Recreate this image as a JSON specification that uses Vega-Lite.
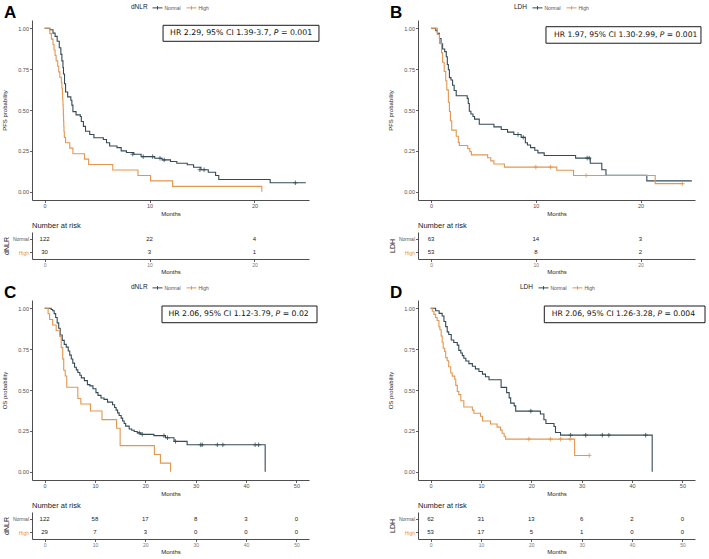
{
  "$schema": "https://vega.github.io/schema/vega-lite/v6.json",
  "background": "white",
  "padding": {"left": 1, "top": 2, "right": 2, "bottom": 2},
  "config": {
    "view": {"stroke": null},
    "font": "Liberation Sans",
    "axis": {"grid": false, "domainColor": "#3a3a3a", "tickColor": "#3a3a3a", "labelColor": "#4D4D4D", "titleColor": "#222", "labelFontSize": 5.5, "titleFontSize": 6, "titleFontWeight": "normal", "tickSize": 2.5, "labelPadding": 1, "domainWidth": 0.9, "tickWidth": 0.8, "labelFont": "Liberation Sans", "titleFont": "Liberation Sans"},
    "legend": {"labelFont": "Liberation Sans", "titleFont": "Liberation Sans"}
  },
  "datasets": {
    "km": [
      {"panel":"A","group":"Normal","t":0,"s":1},{"panel":"A","group":"Normal","t":0.5,"s":0.99},{"panel":"A","group":"Normal","t":0.8,"s":0.97},{"panel":"A","group":"Normal","t":1.0,"s":0.95},{"panel":"A","group":"Normal","t":1.2,"s":0.92},{"panel":"A","group":"Normal","t":1.4,"s":0.88},{"panel":"A","group":"Normal","t":1.55,"s":0.84},{"panel":"A","group":"Normal","t":1.65,"s":0.8},{"panel":"A","group":"Normal","t":1.75,"s":0.76},{"panel":"A","group":"Normal","t":1.8,"s":0.72},{"panel":"A","group":"Normal","t":1.9,"s":0.66},{"panel":"A","group":"Normal","t":2.0,"s":0.61},{"panel":"A","group":"Normal","t":2.2,"s":0.58},{"panel":"A","group":"Normal","t":2.5,"s":0.56},{"panel":"A","group":"Normal","t":2.6,"s":0.53},{"panel":"A","group":"Normal","t":2.7,"s":0.49},{"panel":"A","group":"Normal","t":3.0,"s":0.47},{"panel":"A","group":"Normal","t":3.4,"s":0.46},{"panel":"A","group":"Normal","t":3.5,"s":0.43},{"panel":"A","group":"Normal","t":3.7,"s":0.4},{"panel":"A","group":"Normal","t":3.9,"s":0.37},{"panel":"A","group":"Normal","t":4.3,"s":0.35},{"panel":"A","group":"Normal","t":4.7,"s":0.33},{"panel":"A","group":"Normal","t":5.6,"s":0.32},{"panel":"A","group":"Normal","t":5.9,"s":0.3},{"panel":"A","group":"Normal","t":6.2,"s":0.28},{"panel":"A","group":"Normal","t":6.9,"s":0.27},{"panel":"A","group":"Normal","t":7.3,"s":0.25},{"panel":"A","group":"Normal","t":7.8,"s":0.24},{"panel":"A","group":"Normal","t":8.5,"s":0.23},{"panel":"A","group":"Normal","t":9.2,"s":0.215},{"panel":"A","group":"Normal","t":10.5,"s":0.205},{"panel":"A","group":"Normal","t":11.2,"s":0.195},{"panel":"A","group":"Normal","t":12.0,"s":0.185},{"panel":"A","group":"Normal","t":12.6,"s":0.175},{"panel":"A","group":"Normal","t":13.6,"s":0.165},{"panel":"A","group":"Normal","t":14.2,"s":0.15},{"panel":"A","group":"Normal","t":14.9,"s":0.135},{"panel":"A","group":"Normal","t":15.6,"s":0.12},{"panel":"A","group":"Normal","t":16.3,"s":0.1},{"panel":"A","group":"Normal","t":16.6,"s":0.075},{"panel":"A","group":"Normal","t":21.5,"s":0.055},{"panel":"A","group":"Normal","t":24.9,"s":0.055},
      {"panel":"A","group":"High","t":0,"s":1},{"panel":"A","group":"High","t":0.5,"s":0.967},{"panel":"A","group":"High","t":0.65,"s":0.933},{"panel":"A","group":"High","t":0.8,"s":0.9},{"panel":"A","group":"High","t":0.9,"s":0.867},{"panel":"A","group":"High","t":1.0,"s":0.833},{"panel":"A","group":"High","t":1.1,"s":0.8},{"panel":"A","group":"High","t":1.25,"s":0.767},{"panel":"A","group":"High","t":1.35,"s":0.733},{"panel":"A","group":"High","t":1.45,"s":0.7},{"panel":"A","group":"High","t":1.6,"s":0.667},{"panel":"A","group":"High","t":1.65,"s":0.633},{"panel":"A","group":"High","t":1.7,"s":0.6},{"panel":"A","group":"High","t":1.72,"s":0.567},{"panel":"A","group":"High","t":1.75,"s":0.533},{"panel":"A","group":"High","t":1.77,"s":0.5},{"panel":"A","group":"High","t":1.79,"s":0.467},{"panel":"A","group":"High","t":1.81,"s":0.433},{"panel":"A","group":"High","t":1.83,"s":0.4},{"panel":"A","group":"High","t":1.85,"s":0.367},{"panel":"A","group":"High","t":1.88,"s":0.333},{"panel":"A","group":"High","t":2.0,"s":0.3},{"panel":"A","group":"High","t":2.4,"s":0.267},{"panel":"A","group":"High","t":2.7,"s":0.233},{"panel":"A","group":"High","t":3.8,"s":0.2},{"panel":"A","group":"High","t":4.2,"s":0.167},{"panel":"A","group":"High","t":6.5,"s":0.133},{"panel":"A","group":"High","t":8.9,"s":0.1},{"panel":"A","group":"High","t":10.1,"s":0.067},{"panel":"A","group":"High","t":12.2,"s":0.033},{"panel":"A","group":"High","t":20.7,"s":0.0},
      {"panel":"B","group":"Normal","t":0,"s":1},{"panel":"B","group":"Normal","t":0.45,"s":0.984},{"panel":"B","group":"Normal","t":0.6,"s":0.968},{"panel":"B","group":"Normal","t":0.8,"s":0.937},{"panel":"B","group":"Normal","t":0.95,"s":0.905},{"panel":"B","group":"Normal","t":1.1,"s":0.873},{"panel":"B","group":"Normal","t":1.3,"s":0.857},{"panel":"B","group":"Normal","t":1.45,"s":0.825},{"panel":"B","group":"Normal","t":1.55,"s":0.778},{"panel":"B","group":"Normal","t":1.65,"s":0.746},{"panel":"B","group":"Normal","t":1.75,"s":0.698},{"panel":"B","group":"Normal","t":1.9,"s":0.683},{"panel":"B","group":"Normal","t":2.05,"s":0.651},{"panel":"B","group":"Normal","t":2.2,"s":0.619},{"panel":"B","group":"Normal","t":2.4,"s":0.587},{"panel":"B","group":"Normal","t":3.45,"s":0.571},{"panel":"B","group":"Normal","t":3.55,"s":0.54},{"panel":"B","group":"Normal","t":3.65,"s":0.492},{"panel":"B","group":"Normal","t":3.8,"s":0.476},{"panel":"B","group":"Normal","t":4.0,"s":0.46},{"panel":"B","group":"Normal","t":4.15,"s":0.444},{"panel":"B","group":"Normal","t":4.6,"s":0.413},{"panel":"B","group":"Normal","t":6.0,"s":0.397},{"panel":"B","group":"Normal","t":6.7,"s":0.381},{"panel":"B","group":"Normal","t":7.3,"s":0.365},{"panel":"B","group":"Normal","t":7.9,"s":0.35},{"panel":"B","group":"Normal","t":8.6,"s":0.333},{"panel":"B","group":"Normal","t":9.0,"s":0.3},{"panel":"B","group":"Normal","t":9.2,"s":0.286},{"panel":"B","group":"Normal","t":9.5,"s":0.27},{"panel":"B","group":"Normal","t":9.9,"s":0.254},{"panel":"B","group":"Normal","t":10.2,"s":0.238},{"panel":"B","group":"Normal","t":10.8,"s":0.222},{"panel":"B","group":"Normal","t":13.8,"s":0.206},{"panel":"B","group":"Normal","t":15.2,"s":0.175},{"panel":"B","group":"Normal","t":16.3,"s":0.135},{"panel":"B","group":"Normal","t":16.7,"s":0.101},{"panel":"B","group":"Normal","t":20.6,"s":0.067},{"panel":"B","group":"Normal","t":24.9,"s":0.067},
      {"panel":"B","group":"High","t":0,"s":1},{"panel":"B","group":"High","t":0.6,"s":0.962},{"panel":"B","group":"High","t":0.8,"s":0.906},{"panel":"B","group":"High","t":1.0,"s":0.849},{"panel":"B","group":"High","t":1.1,"s":0.792},{"panel":"B","group":"High","t":1.25,"s":0.736},{"panel":"B","group":"High","t":1.4,"s":0.679},{"panel":"B","group":"High","t":1.5,"s":0.623},{"panel":"B","group":"High","t":1.65,"s":0.547},{"panel":"B","group":"High","t":1.75,"s":0.491},{"panel":"B","group":"High","t":1.85,"s":0.434},{"panel":"B","group":"High","t":1.97,"s":0.377},{"panel":"B","group":"High","t":2.4,"s":0.34},{"panel":"B","group":"High","t":2.6,"s":0.302},{"panel":"B","group":"High","t":2.7,"s":0.283},{"panel":"B","group":"High","t":3.5,"s":0.264},{"panel":"B","group":"High","t":3.7,"s":0.245},{"panel":"B","group":"High","t":3.85,"s":0.226},{"panel":"B","group":"High","t":5.4,"s":0.208},{"panel":"B","group":"High","t":5.7,"s":0.189},{"panel":"B","group":"High","t":6.0,"s":0.17},{"panel":"B","group":"High","t":7.0,"s":0.151},{"panel":"B","group":"High","t":12.0,"s":0.132},{"panel":"B","group":"High","t":13.6,"s":0.1},{"panel":"B","group":"High","t":21.4,"s":0.05},{"panel":"B","group":"High","t":24.0,"s":0.05},
      {"panel":"C","group":"Normal","t":0,"s":1},{"panel":"C","group":"Normal","t":1.3,"s":0.992},{"panel":"C","group":"Normal","t":1.6,"s":0.984},{"panel":"C","group":"Normal","t":1.9,"s":0.967},{"panel":"C","group":"Normal","t":2.2,"s":0.943},{"panel":"C","group":"Normal","t":2.5,"s":0.91},{"panel":"C","group":"Normal","t":2.8,"s":0.877},{"panel":"C","group":"Normal","t":3.1,"s":0.836},{"panel":"C","group":"Normal","t":3.5,"s":0.803},{"panel":"C","group":"Normal","t":3.9,"s":0.779},{"panel":"C","group":"Normal","t":4.3,"s":0.762},{"panel":"C","group":"Normal","t":4.7,"s":0.738},{"panel":"C","group":"Normal","t":5.0,"s":0.713},{"panel":"C","group":"Normal","t":5.3,"s":0.689},{"panel":"C","group":"Normal","t":5.6,"s":0.664},{"panel":"C","group":"Normal","t":5.95,"s":0.639},{"panel":"C","group":"Normal","t":6.3,"s":0.623},{"panel":"C","group":"Normal","t":6.6,"s":0.607},{"panel":"C","group":"Normal","t":7.0,"s":0.59},{"panel":"C","group":"Normal","t":7.3,"s":0.574},{"panel":"C","group":"Normal","t":7.9,"s":0.557},{"panel":"C","group":"Normal","t":8.5,"s":0.533},{"panel":"C","group":"Normal","t":9.0,"s":0.525},{"panel":"C","group":"Normal","t":9.6,"s":0.508},{"panel":"C","group":"Normal","t":10.2,"s":0.484},{"panel":"C","group":"Normal","t":10.6,"s":0.467},{"panel":"C","group":"Normal","t":11.2,"s":0.451},{"panel":"C","group":"Normal","t":11.8,"s":0.443},{"panel":"C","group":"Normal","t":12.5,"s":0.426},{"panel":"C","group":"Normal","t":13.5,"s":0.41},{"panel":"C","group":"Normal","t":13.9,"s":0.393},{"panel":"C","group":"Normal","t":14.2,"s":0.377},{"panel":"C","group":"Normal","t":14.5,"s":0.36},{"panel":"C","group":"Normal","t":14.8,"s":0.344},{"panel":"C","group":"Normal","t":15.2,"s":0.328},{"panel":"C","group":"Normal","t":15.5,"s":0.311},{"panel":"C","group":"Normal","t":15.8,"s":0.295},{"panel":"C","group":"Normal","t":16.1,"s":0.279},{"panel":"C","group":"Normal","t":16.8,"s":0.262},{"panel":"C","group":"Normal","t":17.3,"s":0.254},{"panel":"C","group":"Normal","t":17.8,"s":0.246},{"panel":"C","group":"Normal","t":18.4,"s":0.238},{"panel":"C","group":"Normal","t":19.1,"s":0.229},{"panel":"C","group":"Normal","t":21.7,"s":0.221},{"panel":"C","group":"Normal","t":24.0,"s":0.208},{"panel":"C","group":"Normal","t":25.7,"s":0.186},{"panel":"C","group":"Normal","t":28.3,"s":0.165},{"panel":"C","group":"Normal","t":43.8,"s":0.0},
      {"panel":"C","group":"High","t":0,"s":1},{"panel":"C","group":"High","t":0.7,"s":0.966},{"panel":"C","group":"High","t":1.0,"s":0.931},{"panel":"C","group":"High","t":1.6,"s":0.897},{"panel":"C","group":"High","t":2.3,"s":0.862},{"panel":"C","group":"High","t":3.0,"s":0.828},{"panel":"C","group":"High","t":3.3,"s":0.759},{"panel":"C","group":"High","t":3.6,"s":0.69},{"panel":"C","group":"High","t":3.8,"s":0.621},{"panel":"C","group":"High","t":4.1,"s":0.586},{"panel":"C","group":"High","t":4.4,"s":0.517},{"panel":"C","group":"High","t":6.6,"s":0.448},{"panel":"C","group":"High","t":7.2,"s":0.414},{"panel":"C","group":"High","t":9.1,"s":0.372},{"panel":"C","group":"High","t":11.4,"s":0.319},{"panel":"C","group":"High","t":14.3,"s":0.266},{"panel":"C","group":"High","t":15.0,"s":0.16},{"panel":"C","group":"High","t":21.8,"s":0.106},{"panel":"C","group":"High","t":23.0,"s":0.053},{"panel":"C","group":"High","t":25.0,"s":0.0},
      {"panel":"D","group":"Normal","t":0,"s":1},{"panel":"D","group":"Normal","t":1.0,"s":0.984},{"panel":"D","group":"Normal","t":1.7,"s":0.968},{"panel":"D","group":"Normal","t":2.3,"s":0.952},{"panel":"D","group":"Normal","t":2.65,"s":0.919},{"panel":"D","group":"Normal","t":3.0,"s":0.887},{"panel":"D","group":"Normal","t":3.3,"s":0.855},{"panel":"D","group":"Normal","t":3.6,"s":0.839},{"panel":"D","group":"Normal","t":4.1,"s":0.806},{"panel":"D","group":"Normal","t":4.6,"s":0.79},{"panel":"D","group":"Normal","t":5.3,"s":0.774},{"panel":"D","group":"Normal","t":5.6,"s":0.742},{"panel":"D","group":"Normal","t":6.0,"s":0.726},{"panel":"D","group":"Normal","t":6.3,"s":0.71},{"panel":"D","group":"Normal","t":6.6,"s":0.694},{"panel":"D","group":"Normal","t":7.0,"s":0.677},{"panel":"D","group":"Normal","t":7.6,"s":0.661},{"panel":"D","group":"Normal","t":8.3,"s":0.645},{"panel":"D","group":"Normal","t":8.9,"s":0.629},{"panel":"D","group":"Normal","t":9.6,"s":0.613},{"panel":"D","group":"Normal","t":10.3,"s":0.597},{"panel":"D","group":"Normal","t":10.9,"s":0.581},{"panel":"D","group":"Normal","t":11.6,"s":0.563},{"panel":"D","group":"Normal","t":14.0,"s":0.516},{"panel":"D","group":"Normal","t":15.1,"s":0.484},{"panel":"D","group":"Normal","t":15.6,"s":0.452},{"panel":"D","group":"Normal","t":15.9,"s":0.42},{"panel":"D","group":"Normal","t":16.6,"s":0.403},{"panel":"D","group":"Normal","t":16.9,"s":0.371},{"panel":"D","group":"Normal","t":21.8,"s":0.353},{"panel":"D","group":"Normal","t":22.5,"s":0.318},{"panel":"D","group":"Normal","t":22.9,"s":0.295},{"panel":"D","group":"Normal","t":24.5,"s":0.277},{"panel":"D","group":"Normal","t":24.8,"s":0.24},{"panel":"D","group":"Normal","t":25.8,"s":0.224},{"panel":"D","group":"Normal","t":44.0,"s":0.0},
      {"panel":"D","group":"High","t":0,"s":1},{"panel":"D","group":"High","t":0.33,"s":0.981},{"panel":"D","group":"High","t":0.66,"s":0.962},{"panel":"D","group":"High","t":1.0,"s":0.943},{"panel":"D","group":"High","t":1.3,"s":0.925},{"panel":"D","group":"High","t":1.65,"s":0.887},{"panel":"D","group":"High","t":1.85,"s":0.868},{"panel":"D","group":"High","t":2.1,"s":0.83},{"panel":"D","group":"High","t":2.3,"s":0.792},{"panel":"D","group":"High","t":2.5,"s":0.755},{"panel":"D","group":"High","t":2.8,"s":0.736},{"panel":"D","group":"High","t":3.0,"s":0.698},{"panel":"D","group":"High","t":3.3,"s":0.679},{"panel":"D","group":"High","t":3.6,"s":0.642},{"panel":"D","group":"High","t":4.0,"s":0.604},{"panel":"D","group":"High","t":4.3,"s":0.585},{"panel":"D","group":"High","t":4.8,"s":0.566},{"panel":"D","group":"High","t":5.0,"s":0.528},{"panel":"D","group":"High","t":5.3,"s":0.491},{"panel":"D","group":"High","t":5.6,"s":0.472},{"panel":"D","group":"High","t":6.0,"s":0.434},{"panel":"D","group":"High","t":6.6,"s":0.396},{"panel":"D","group":"High","t":8.3,"s":0.377},{"panel":"D","group":"High","t":8.6,"s":0.358},{"panel":"D","group":"High","t":9.9,"s":0.34},{"panel":"D","group":"High","t":10.3,"s":0.311},{"panel":"D","group":"High","t":11.9,"s":0.292},{"panel":"D","group":"High","t":13.2,"s":0.273},{"panel":"D","group":"High","t":13.9,"s":0.255},{"panel":"D","group":"High","t":14.2,"s":0.236},{"panel":"D","group":"High","t":14.6,"s":0.217},{"panel":"D","group":"High","t":14.9,"s":0.2},{"panel":"D","group":"High","t":28.6,"s":0.1},{"panel":"D","group":"High","t":31.5,"s":0.1}
    ],
    "censor": [
      {"panel":"A","group":"Normal","t":8.4,"s":0.23},{"panel":"A","group":"Normal","t":9.4,"s":0.215},{"panel":"A","group":"Normal","t":10.3,"s":0.215},{"panel":"A","group":"Normal","t":11.0,"s":0.205},{"panel":"A","group":"Normal","t":11.4,"s":0.195},{"panel":"A","group":"Normal","t":14.8,"s":0.135},{"panel":"A","group":"Normal","t":15.2,"s":0.135},{"panel":"A","group":"Normal","t":23.9,"s":0.055},
      {"panel":"B","group":"Normal","t":8.3,"s":0.35},{"panel":"B","group":"Normal","t":8.8,"s":0.333},{"panel":"B","group":"Normal","t":14.9,"s":0.206},{"panel":"B","group":"Normal","t":15.1,"s":0.206},
      {"panel":"B","group":"High","t":10.0,"s":0.151},{"panel":"B","group":"High","t":11.4,"s":0.151},{"panel":"B","group":"High","t":14.8,"s":0.1},{"panel":"B","group":"High","t":24.0,"s":0.05},
      {"panel":"C","group":"Normal","t":18.8,"s":0.238},{"panel":"C","group":"Normal","t":19.4,"s":0.229},{"panel":"C","group":"Normal","t":23.7,"s":0.221},{"panel":"C","group":"Normal","t":24.4,"s":0.208},{"panel":"C","group":"Normal","t":26.0,"s":0.186},{"panel":"C","group":"Normal","t":31.0,"s":0.165},{"panel":"C","group":"Normal","t":31.3,"s":0.165},{"panel":"C","group":"Normal","t":34.3,"s":0.165},{"panel":"C","group":"Normal","t":35.4,"s":0.165},{"panel":"C","group":"Normal","t":41.8,"s":0.165},{"panel":"C","group":"Normal","t":42.5,"s":0.165},
      {"panel":"D","group":"Normal","t":19.9,"s":0.371},{"panel":"D","group":"Normal","t":27.8,"s":0.224},{"panel":"D","group":"Normal","t":30.8,"s":0.224},{"panel":"D","group":"Normal","t":34.1,"s":0.224},{"panel":"D","group":"Normal","t":35.4,"s":0.224},{"panel":"D","group":"Normal","t":42.7,"s":0.224},
      {"panel":"D","group":"High","t":19.5,"s":0.2},{"panel":"D","group":"High","t":23.8,"s":0.2},{"panel":"D","group":"High","t":25.8,"s":0.2},{"panel":"D","group":"High","t":27.7,"s":0.2},{"panel":"D","group":"High","t":31.5,"s":0.1}
    ],
    "risk": [
      {"panel":"A","group":"Normal","t":0,"n":122},{"panel":"A","group":"Normal","t":10,"n":22},{"panel":"A","group":"Normal","t":20,"n":4},
      {"panel":"A","group":"High","t":0,"n":30},{"panel":"A","group":"High","t":10,"n":3},{"panel":"A","group":"High","t":20,"n":1},
      {"panel":"B","group":"Normal","t":0,"n":63},{"panel":"B","group":"Normal","t":10,"n":14},{"panel":"B","group":"Normal","t":20,"n":3},
      {"panel":"B","group":"High","t":0,"n":53},{"panel":"B","group":"High","t":10,"n":8},{"panel":"B","group":"High","t":20,"n":2},
      {"panel":"C","group":"Normal","t":0,"n":122},{"panel":"C","group":"Normal","t":10,"n":58},{"panel":"C","group":"Normal","t":20,"n":17},{"panel":"C","group":"Normal","t":30,"n":8},{"panel":"C","group":"Normal","t":40,"n":3},{"panel":"C","group":"Normal","t":50,"n":0},
      {"panel":"C","group":"High","t":0,"n":29},{"panel":"C","group":"High","t":10,"n":7},{"panel":"C","group":"High","t":20,"n":3},{"panel":"C","group":"High","t":30,"n":0},{"panel":"C","group":"High","t":40,"n":0},{"panel":"C","group":"High","t":50,"n":0},
      {"panel":"D","group":"Normal","t":0,"n":62},{"panel":"D","group":"Normal","t":10,"n":31},{"panel":"D","group":"Normal","t":20,"n":13},{"panel":"D","group":"Normal","t":30,"n":6},{"panel":"D","group":"Normal","t":40,"n":2},{"panel":"D","group":"Normal","t":50,"n":0},
      {"panel":"D","group":"High","t":0,"n":53},{"panel":"D","group":"High","t":10,"n":17},{"panel":"D","group":"High","t":20,"n":5},{"panel":"D","group":"High","t":30,"n":1},{"panel":"D","group":"High","t":40,"n":0},{"panel":"D","group":"High","t":50,"n":0}
    ]
  },
  "columns": 2,
  "spacing": {"row": 32, "column": 109},
  "align": "each",
  "bounds": "flush",
  "resolve": {"scale": {"color": "independent"}, "legend": {"color": "independent"}},
  "concat": [
    {
      "width": 277, "height": 189,
      "title": {"text": "A", "anchor": "start", "frame": "group", "fontSize": 17, "fontWeight": "bold", "font": "Liberation Sans", "color": "#000", "offset": 0, "dx": -28, "dy": 33, "baseline": "alphabetic"},
      "layer": [
        {"data": {"name": "km"}, "transform": [{"filter": "datum.panel === 'A'"}],
         "mark": {"type": "line", "interpolate": "step-after", "strokeWidth": 1.1},
         "encoding": {
           "x": {"field": "t", "type": "quantitative", "scale": {"domain": [-1.2, 25.2], "nice": false, "zero": false}, "axis": {"values": [0, 10, 20], "title": "Months", "titlePadding": 1}},
           "y": {"field": "s", "type": "quantitative", "scale": {"domain": [-0.05, 1.05], "nice": false, "zero": false, "range": [189, 9]}, "axis": {"values": [0, 0.25, 0.5, 0.75, 1], "format": ".2f", "title": "PFS probability", "titlePadding": 10}},
           "color": {"field": "group", "type": "nominal", "title": "dNLR", "scale": {"domain": ["Normal", "High"], "range": ["#344B55", "#E3964F"]},
             "legend": {"orient": "none", "legendX": 99, "legendY": -9, "direction": "horizontal", "titleOrient": "left", "symbolType": "M-1,0H1M0,-0.35V0.35", "symbolSize": 100, "symbolStrokeWidth": 1, "labelFontSize": 5, "titleFontSize": 6.5, "labelColor": "#555", "titleColor": "#222", "titleFontWeight": "normal", "columnPadding": 3, "labelOffset": 1.5, "titlePadding": 4, "padding": 0}}
         }},
        {"data": {"name": "censor"}, "transform": [{"filter": "datum.panel === 'A'"}],
         "mark": {"type": "point", "shape": "M0,-1V1M-1,0H1", "filled": false, "size": 20, "strokeWidth": 0.8, "opacity": 1},
         "encoding": {"x": {"field": "t", "type": "quantitative"}, "y": {"field": "s", "type": "quantitative"}, "color": {"field": "group", "type": "nominal"}}},
        {"data": {"values": [{}]}, "mark": {"type": "rect", "fill": "white", "stroke": "#1a1a1a", "strokeWidth": 1},
         "encoding": {"x": {"datum": 11.29}, "x2": {"datum": 26.15}, "y": {"datum": 1.0176}, "y2": {"datum": 0.9198}}},
        {"data": {"values": [{}]}, "mark": {"type": "text", "font": "DejaVu Sans", "fontSize": 7.8, "align": "right", "baseline": "middle", "dx": -4.83, "color": "#111"},
         "encoding": {"x": {"datum": 22.06}, "y": {"datum": 0.969}, "text": {"value": "HR 2.29, 95% CI 1.39-3.7,"}}},
        {"data": {"values": [{}]}, "mark": {"type": "text", "font": "DejaVu Sans", "fontSize": 7.8, "fontStyle": "italic", "align": "center", "baseline": "middle", "color": "#111"},
         "encoding": {"x": {"datum": 22.06}, "y": {"datum": 0.969}, "text": {"value": "P"}}},
        {"data": {"values": [{}]}, "mark": {"type": "text", "font": "DejaVu Sans", "fontSize": 7.8, "align": "left", "baseline": "middle", "dx": 4.83, "color": "#111"},
         "encoding": {"x": {"datum": 22.06}, "y": {"datum": 0.969}, "text": {"value": "= 0.001"}}}
      ]
    },
    {
      "width": 277, "height": 189,
      "title": {"text": "B", "anchor": "start", "frame": "group", "fontSize": 17, "fontWeight": "bold", "font": "Liberation Sans", "color": "#000", "offset": 0, "dx": -28, "dy": 33, "baseline": "alphabetic"},
      "layer": [
        {"data": {"name": "km"}, "transform": [{"filter": "datum.panel === 'B'"}],
         "mark": {"type": "line", "interpolate": "step-after", "strokeWidth": 1.1},
         "encoding": {
           "x": {"field": "t", "type": "quantitative", "scale": {"domain": [-1.25, 25.2], "nice": false, "zero": false}, "axis": {"values": [0, 10, 20], "title": "Months", "titlePadding": 1}},
           "y": {"field": "s", "type": "quantitative", "scale": {"domain": [-0.05, 1.05], "nice": false, "zero": false, "range": [189, 9]}, "axis": {"values": [0, 0.25, 0.5, 0.75, 1], "format": ".2f", "title": "PFS probability", "titlePadding": 10}},
           "color": {"field": "group", "type": "nominal", "title": "LDH", "scale": {"domain": ["Normal", "High"], "range": ["#344B55", "#E3964F"]},
             "legend": {"orient": "none", "legendX": 96, "legendY": -9, "direction": "horizontal", "titleOrient": "left", "symbolType": "M-1,0H1M0,-0.35V0.35", "symbolSize": 100, "symbolStrokeWidth": 1, "labelFontSize": 5, "titleFontSize": 6.5, "labelColor": "#555", "titleColor": "#222", "titleFontWeight": "normal", "columnPadding": 3, "labelOffset": 1.5, "titlePadding": 4, "padding": 0}}
         }},
        {"data": {"name": "censor"}, "transform": [{"filter": "datum.panel === 'B'"}],
         "mark": {"type": "point", "shape": "M0,-1V1M-1,0H1", "filled": false, "size": 20, "strokeWidth": 0.8, "opacity": 1},
         "encoding": {"x": {"field": "t", "type": "quantitative"}, "y": {"field": "s", "type": "quantitative"}, "color": {"field": "group", "type": "nominal"}}},
        {"data": {"values": [{}]}, "mark": {"type": "rect", "fill": "white", "stroke": "#1a1a1a", "strokeWidth": 1},
         "encoding": {"x": {"datum": 10.97}, "x2": {"datum": 25.77}, "y": {"datum": 1.009}, "y2": {"datum": 0.908}}},
        {"data": {"values": [{}]}, "mark": {"type": "text", "font": "DejaVu Sans", "fontSize": 7.6, "align": "right", "baseline": "middle", "dx": -4.71, "color": "#111"},
         "encoding": {"x": {"datum": 22.06}, "y": {"datum": 0.958}, "text": {"value": "HR 1.97, 95% CI 1.30-2.99,"}}},
        {"data": {"values": [{}]}, "mark": {"type": "text", "font": "DejaVu Sans", "fontSize": 7.6, "fontStyle": "italic", "align": "center", "baseline": "middle", "color": "#111"},
         "encoding": {"x": {"datum": 22.06}, "y": {"datum": 0.958}, "text": {"value": "P"}}},
        {"data": {"values": [{}]}, "mark": {"type": "text", "font": "DejaVu Sans", "fontSize": 7.6, "align": "left", "baseline": "middle", "dx": 4.71, "color": "#111"},
         "encoding": {"x": {"datum": 22.06}, "y": {"datum": 0.958}, "text": {"value": "= 0.001"}}}
      ]
    },
    {
      "width": 277, "height": 27,
      "title": {"text": "Number at risk", "anchor": "start", "frame": "group", "fontSize": 7.5, "fontWeight": "normal", "font": "Liberation Sans", "color": "#222", "offset": 3},
      "data": {"name": "risk"}, "transform": [{"filter": "datum.panel === 'A'"}],
      "mark": {"type": "text", "fontSize": 6, "font": "Liberation Sans", "color": "#222"},
      "encoding": {
        "x": {"field": "t", "type": "quantitative", "scale": {"domain": [-1.2, 25.2], "nice": false, "zero": false}, "axis": {"values": [0, 10, 20], "title": "Months", "titlePadding": 0.5, "labelFontSize": 5, "labelColor": "#777"}},
        "y": {"field": "group", "type": "nominal", "scale": {"domain": ["Normal", "High"]}, "axis": {"title": "dNLR", "titleFontSize": 7, "titlePadding": 3, "labelFontSize": 5, "labelPadding": 1, "labelColor": {"condition": {"test": "datum.value === 'High'", "value": "#E3964F"}, "value": "#555"}}},
        "text": {"field": "n", "type": "quantitative"}
      }
    },
    {
      "width": 277, "height": 27,
      "title": {"text": "Number at risk", "anchor": "start", "frame": "group", "fontSize": 7.5, "fontWeight": "normal", "font": "Liberation Sans", "color": "#222", "offset": 3},
      "data": {"name": "risk"}, "transform": [{"filter": "datum.panel === 'B'"}],
      "mark": {"type": "text", "fontSize": 6, "font": "Liberation Sans", "color": "#222"},
      "encoding": {
        "x": {"field": "t", "type": "quantitative", "scale": {"domain": [-1.25, 25.2], "nice": false, "zero": false}, "axis": {"values": [0, 10, 20], "title": "Months", "titlePadding": 0.5, "labelFontSize": 5, "labelColor": "#777"}},
        "y": {"field": "group", "type": "nominal", "scale": {"domain": ["Normal", "High"]}, "axis": {"title": "LDH", "titleFontSize": 7, "titlePadding": 3, "labelFontSize": 5, "labelPadding": 1, "labelColor": {"condition": {"test": "datum.value === 'High'", "value": "#E3964F"}, "value": "#555"}}},
        "text": {"field": "n", "type": "quantitative"}
      }
    },
    {
      "width": 277, "height": 189,
      "title": {"text": "C", "anchor": "start", "frame": "group", "fontSize": 17, "fontWeight": "bold", "font": "Liberation Sans", "color": "#000", "offset": 0, "dx": -28, "dy": 33, "baseline": "alphabetic"},
      "layer": [
        {"data": {"name": "km"}, "transform": [{"filter": "datum.panel === 'C'"}],
         "mark": {"type": "line", "interpolate": "step-after", "strokeWidth": 1.1},
         "encoding": {
           "x": {"field": "t", "type": "quantitative", "scale": {"domain": [-2.5, 52.5], "nice": false, "zero": false}, "axis": {"values": [0, 10, 20, 30, 40, 50], "title": "Months", "titlePadding": 1}},
           "y": {"field": "s", "type": "quantitative", "scale": {"domain": [-0.05, 1.05], "nice": false, "zero": false, "range": [189, 9]}, "axis": {"values": [0, 0.25, 0.5, 0.75, 1], "format": ".2f", "title": "OS probability", "titlePadding": 10}},
           "color": {"field": "group", "type": "nominal", "title": "dNLR", "scale": {"domain": ["Normal", "High"], "range": ["#344B55", "#E3964F"]},
             "legend": {"orient": "none", "legendX": 99, "legendY": -9, "direction": "horizontal", "titleOrient": "left", "symbolType": "M-1,0H1M0,-0.35V0.35", "symbolSize": 100, "symbolStrokeWidth": 1, "labelFontSize": 5, "titleFontSize": 6.5, "labelColor": "#555", "titleColor": "#222", "titleFontWeight": "normal", "columnPadding": 3, "labelOffset": 1.5, "titlePadding": 4, "padding": 0}}
         }},
        {"data": {"name": "censor"}, "transform": [{"filter": "datum.panel === 'C'"}],
         "mark": {"type": "point", "shape": "M0,-1V1M-1,0H1", "filled": false, "size": 20, "strokeWidth": 0.8, "opacity": 1},
         "encoding": {"x": {"field": "t", "type": "quantitative"}, "y": {"field": "s", "type": "quantitative"}, "color": {"field": "group", "type": "nominal"}}},
        {"data": {"values": [{}]}, "mark": {"type": "rect", "fill": "white", "stroke": "#1a1a1a", "strokeWidth": 1},
         "encoding": {"x": {"datum": 23.31}, "x2": {"datum": 54.09}, "y": {"datum": 1.0133}, "y2": {"datum": 0.9112}}},
        {"data": {"values": [{}]}, "mark": {"type": "text", "font": "DejaVu Sans", "fontSize": 7.7, "align": "right", "baseline": "middle", "dx": -4.77, "color": "#111"},
         "encoding": {"x": {"datum": 46.33}, "y": {"datum": 0.965}, "text": {"value": "HR 2.06, 95% CI 1.12-3.79,"}}},
        {"data": {"values": [{}]}, "mark": {"type": "text", "font": "DejaVu Sans", "fontSize": 7.7, "fontStyle": "italic", "align": "center", "baseline": "middle", "color": "#111"},
         "encoding": {"x": {"datum": 46.33}, "y": {"datum": 0.965}, "text": {"value": "P"}}},
        {"data": {"values": [{}]}, "mark": {"type": "text", "font": "DejaVu Sans", "fontSize": 7.7, "align": "left", "baseline": "middle", "dx": 4.77, "color": "#111"},
         "encoding": {"x": {"datum": 46.33}, "y": {"datum": 0.965}, "text": {"value": "= 0.02"}}}
      ]
    },
    {
      "width": 277, "height": 189,
      "title": {"text": "D", "anchor": "start", "frame": "group", "fontSize": 17, "fontWeight": "bold", "font": "Liberation Sans", "color": "#000", "offset": 0, "dx": -28, "dy": 33, "baseline": "alphabetic"},
      "layer": [
        {"data": {"name": "km"}, "transform": [{"filter": "datum.panel === 'D'"}],
         "mark": {"type": "line", "interpolate": "step-after", "strokeWidth": 1.1},
         "encoding": {
           "x": {"field": "t", "type": "quantitative", "scale": {"domain": [-2.5, 52.5], "nice": false, "zero": false}, "axis": {"values": [0, 10, 20, 30, 40, 50], "title": "Months", "titlePadding": 1}},
           "y": {"field": "s", "type": "quantitative", "scale": {"domain": [-0.05, 1.05], "nice": false, "zero": false, "range": [189, 9]}, "axis": {"values": [0, 0.25, 0.5, 0.75, 1], "format": ".2f", "title": "OS probability", "titlePadding": 10}},
           "color": {"field": "group", "type": "nominal", "title": "LDH", "scale": {"domain": ["Normal", "High"], "range": ["#344B55", "#E3964F"]},
             "legend": {"orient": "none", "legendX": 102, "legendY": -9, "direction": "horizontal", "titleOrient": "left", "symbolType": "M-1,0H1M0,-0.35V0.35", "symbolSize": 100, "symbolStrokeWidth": 1, "labelFontSize": 5, "titleFontSize": 6.5, "labelColor": "#555", "titleColor": "#222", "titleFontWeight": "normal", "columnPadding": 3, "labelOffset": 1.5, "titlePadding": 4, "padding": 0}}
         }},
        {"data": {"name": "censor"}, "transform": [{"filter": "datum.panel === 'D'"}],
         "mark": {"type": "point", "shape": "M0,-1V1M-1,0H1", "filled": false, "size": 20, "strokeWidth": 0.8, "opacity": 1},
         "encoding": {"x": {"field": "t", "type": "quantitative"}, "y": {"field": "s", "type": "quantitative"}, "color": {"field": "group", "type": "nominal"}}},
        {"data": {"values": [{}]}, "mark": {"type": "rect", "fill": "white", "stroke": "#1a1a1a", "strokeWidth": 1},
         "encoding": {"x": {"datum": 22.58}, "x2": {"datum": 54.49}, "y": {"datum": 1.0133}, "y2": {"datum": 0.9112}}},
        {"data": {"values": [{}]}, "mark": {"type": "text", "font": "DejaVu Sans", "fontSize": 7.6, "align": "right", "baseline": "middle", "dx": -4.71, "color": "#111"},
         "encoding": {"x": {"datum": 45.51}, "y": {"datum": 0.965}, "text": {"value": "HR 2.06, 95% CI 1.26-3.28,"}}},
        {"data": {"values": [{}]}, "mark": {"type": "text", "font": "DejaVu Sans", "fontSize": 7.6, "fontStyle": "italic", "align": "center", "baseline": "middle", "color": "#111"},
         "encoding": {"x": {"datum": 45.51}, "y": {"datum": 0.965}, "text": {"value": "P"}}},
        {"data": {"values": [{}]}, "mark": {"type": "text", "font": "DejaVu Sans", "fontSize": 7.6, "align": "left", "baseline": "middle", "dx": 4.71, "color": "#111"},
         "encoding": {"x": {"datum": 45.51}, "y": {"datum": 0.965}, "text": {"value": "= 0.004"}}}
      ]
    },
    {
      "width": 277, "height": 27,
      "title": {"text": "Number at risk", "anchor": "start", "frame": "group", "fontSize": 7.5, "fontWeight": "normal", "font": "Liberation Sans", "color": "#222", "offset": 3},
      "data": {"name": "risk"}, "transform": [{"filter": "datum.panel === 'C'"}],
      "mark": {"type": "text", "fontSize": 6, "font": "Liberation Sans", "color": "#222"},
      "encoding": {
        "x": {"field": "t", "type": "quantitative", "scale": {"domain": [-2.5, 52.5], "nice": false, "zero": false}, "axis": {"values": [0, 10, 20, 30, 40, 50], "title": "Months", "titlePadding": 0.5, "labelFontSize": 5, "labelColor": "#777"}},
        "y": {"field": "group", "type": "nominal", "scale": {"domain": ["Normal", "High"]}, "axis": {"title": "dNLR", "titleFontSize": 7, "titlePadding": 3, "labelFontSize": 5, "labelPadding": 1, "labelColor": {"condition": {"test": "datum.value === 'High'", "value": "#E3964F"}, "value": "#555"}}},
        "text": {"field": "n", "type": "quantitative"}
      }
    },
    {
      "width": 277, "height": 27,
      "title": {"text": "Number at risk", "anchor": "start", "frame": "group", "fontSize": 7.5, "fontWeight": "normal", "font": "Liberation Sans", "color": "#222", "offset": 3},
      "data": {"name": "risk"}, "transform": [{"filter": "datum.panel === 'D'"}],
      "mark": {"type": "text", "fontSize": 6, "font": "Liberation Sans", "color": "#222"},
      "encoding": {
        "x": {"field": "t", "type": "quantitative", "scale": {"domain": [-2.5, 52.5], "nice": false, "zero": false}, "axis": {"values": [0, 10, 20, 30, 40, 50], "title": "Months", "titlePadding": 0.5, "labelFontSize": 5, "labelColor": "#777"}},
        "y": {"field": "group", "type": "nominal", "scale": {"domain": ["Normal", "High"]}, "axis": {"title": "LDH", "titleFontSize": 7, "titlePadding": 3, "labelFontSize": 5, "labelPadding": 1, "labelColor": {"condition": {"test": "datum.value === 'High'", "value": "#E3964F"}, "value": "#555"}}},
        "text": {"field": "n", "type": "quantitative"}
      }
    }
  ]
}
